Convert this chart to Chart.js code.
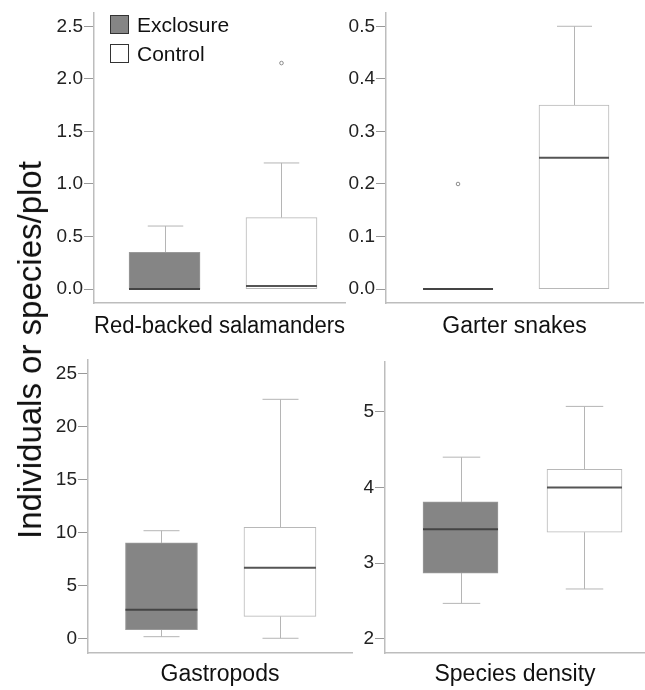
<!DOCTYPE html>
<html><head><meta charset="utf-8">
<script src="https://cdn.jsdelivr.net/npm/chart.js@4"></script>
<style>
html,body{margin:0;padding:0;background:#fff;}
body{width:645px;height:690px;position:relative;overflow:hidden;font-family:"Liberation Sans",Arial,sans-serif;}
.panel{position:absolute;}
#ytitle{position:absolute;left:30px;top:350px;transform:translate(-50%,-50%) rotate(-90deg);font-size:33px;white-space:nowrap;color:#111;}
#legend{position:absolute;left:110px;top:10px;font-size:21px;color:#111;z-index:2;}
.li{display:flex;align-items:center;height:29px;}
.sw{width:19px;height:19px;border:1px solid #333;margin-right:8px;box-sizing:border-box;}
</style></head>
<body>
<div class="panel" style="left:40px;top:0;width:310px;height:340px"><canvas id="c1"></canvas></div>
<div class="panel" style="left:330px;top:0;width:315px;height:340px"><canvas id="c2"></canvas></div>
<div class="panel" style="left:40px;top:345px;width:315px;height:345px"><canvas id="c3"></canvas></div>
<div class="panel" style="left:330px;top:345px;width:315px;height:345px"><canvas id="c4"></canvas></div>
<div id="ytitle">Individuals or species/plot</div>
<div id="legend">
  <div class="li"><span class="sw" style="background:#858585"></span><span>Exclosure</span></div>
  <div class="li"><span class="sw" style="background:#fff"></span><span>Control</span></div>
</div>
<script>
// ---- data: each box = [min, q1, median, q3, max]; order = groups ----
const groups = ['Exclosure', 'Control'];
const panelTitles = ['Red-backed salamanders', 'Garter snakes', 'Gastropods', 'Species density'];

const salamanderExclosure = [0, 0, 0, 0.35, 0.6];
const salamanderControl   = [0, 0, 0.03, 0.68, 1.2];
const salamanderOutliers  = [[], [2.15]];
const salamanderTicks     = [0, 0.5, 1.0, 1.5, 2.0, 2.5];

const snakeExclosure = [0, 0, 0, 0, 0];
const snakeControl   = [0, 0, 0.25, 0.35, 0.5];
const snakeOutliers  = [[0.2], []];
const snakeTicks     = [0, 0.1, 0.2, 0.3, 0.4, 0.5];

const gastropodExclosure = [0.15, 0.8, 2.7, 9.0, 10.15];
const gastropodControl   = [0, 2.07, 6.66, 10.47, 22.55];
const gastropodOutliers  = [[], []];
const gastropodTicks     = [0, 5, 10, 15, 20, 25];

const densityExclosure = [2.47, 2.87, 3.45, 3.81, 4.4];
const densityControl   = [2.66, 3.41, 4.0, 4.24, 5.07];
const densityOutliers  = [[], []];
const densityTicks     = [2, 3, 4, 5];

// ---- layout / style ----
const FONT = '"Liberation Sans", Arial, sans-serif';
const fillColors = ['#858585', '#ffffff'];
const borderColors = ['#9a9a9a', '#b8b8b8'];
const medianColors = ['#444444', '#555555'];
const whiskerColor = '#b5b5b5';
const axisColor = '#bdbdbd';

const panels = [
  {id:'c1', title:panelTitles[0], boxes:[salamanderExclosure, salamanderControl], outliers:salamanderOutliers, ticks:salamanderTicks, dec:1,
   pad:{left:0,right:5,top:10,bottom:0}, yW:54, xH:37, xMin:0.397, xMax:2.543, yMin:-0.132, yMax:2.632, bw:71},
  {id:'c2', title:panelTitles[1], boxes:[snakeExclosure, snakeControl], outliers:snakeOutliers, ticks:snakeTicks, dec:1,
   pad:{left:0,right:2,top:10,bottom:0}, yW:56, xH:37, xMin:0.379, xMax:2.595, yMin:-0.0264, yMax:0.5264, bw:70},
  {id:'c3', title:panelTitles[2], boxes:[gastropodExclosure, gastropodControl], outliers:gastropodOutliers, ticks:gastropodTicks, dec:0,
   pad:{left:0,right:3,top:15,bottom:2}, yW:48, xH:35, xMin:0.380, xMax:2.608, yMin:-1.39, yMax:26.26, bw:72},
  {id:'c4', title:panelTitles[3], boxes:[densityExclosure, densityControl], outliers:densityOutliers, ticks:densityTicks, dec:0,
   pad:{left:0,right:0,top:17,bottom:2}, yW:55, xH:35, xMin:0.391, xMax:2.488, yMin:1.815, yMax:5.656, bw:75}
];

function makeBoxPlugin(p) {
  return {
    id: 'boxExtras',
    beforeDatasetsDraw(chart) {
      const {ctx, scales:{x, y}} = chart;
      ctx.save();
      ctx.strokeStyle = whiskerColor;
      ctx.lineWidth = 1;
      p.boxes.forEach((b, i) => {
        const cx = Math.round(x.getPixelForValue(i + 1)) + 0.5;
        const half = p.bw / 4;
        const pMin = y.getPixelForValue(b[0]), pQ1 = y.getPixelForValue(b[1]);
        const pQ3 = y.getPixelForValue(b[3]), pMax = y.getPixelForValue(b[4]);
        ctx.beginPath();
        if (b[4] > b[3]) {
          ctx.moveTo(cx, pQ3); ctx.lineTo(cx, pMax);
          ctx.moveTo(cx - half, pMax); ctx.lineTo(cx + half, pMax);
        }
        if (b[0] < b[1]) {
          ctx.moveTo(cx, pQ1); ctx.lineTo(cx, pMin);
          ctx.moveTo(cx - half, pMin); ctx.lineTo(cx + half, pMin);
        }
        ctx.stroke();
      });
      ctx.restore();
    },
    afterDatasetsDraw(chart) {
      const {ctx, scales:{x, y}} = chart;
      ctx.save();
      p.boxes.forEach((b, i) => {
        const cx = x.getPixelForValue(i + 1);
        const pm = y.getPixelForValue(b[2]);
        ctx.strokeStyle = medianColors[i];
        ctx.lineWidth = 2;
        ctx.beginPath();
        ctx.moveTo(cx - p.bw / 2, pm); ctx.lineTo(cx + p.bw / 2, pm);
        ctx.stroke();
        (p.outliers[i] || []).forEach(v => {
          ctx.beginPath();
          ctx.arc(cx, y.getPixelForValue(v), 1.8, 0, Math.PI * 2);
          ctx.fillStyle = '#fff';
          ctx.fill();
          ctx.strokeStyle = '#8a8a8a';
          ctx.lineWidth = 1;
          ctx.stroke();
        });
      });
      ctx.restore();
    }
  };
}

panels.forEach(p => {
  new Chart(document.getElementById(p.id), {
    type: 'bar',
    data: {
      datasets: [{
        label: 'box',
        data: p.boxes.map((b, i) => ({x: i + 1, y: [b[1], b[3]], g: groups[i]})),
        backgroundColor: fillColors,
        borderColor: borderColors,
        borderWidth: 1,
        borderSkipped: false,
        barThickness: p.bw
      }]
    },
    options: {
      responsive: true,
      maintainAspectRatio: false,
      animation: false,
      devicePixelRatio: 1,
      layout: {padding: p.pad},
      plugins: {legend: {display: false}, tooltip: {enabled: false}},
      scales: {
        x: {
          type: 'linear',
          offset: false,
          min: p.xMin, max: p.xMax,
          grid: {display: false},
          ticks: {display: false},
          border: {color: axisColor, width: 1.5},
          title: {display: true, text: p.title, color: '#111', padding: 0,
                  font: {family: FONT, size: 23}},
          afterFit: s => { s.height = p.xH; }
        },
        y: {
          min: p.yMin, max: p.yMax,
          afterBuildTicks: s => { s.ticks = p.ticks.map(v => ({value: v})); },
          ticks: {color: '#222', padding: 1, font: {family: FONT, size: 19},
                  callback: v => Number(v).toFixed(p.dec)},
          grid: {drawOnChartArea: false, drawTicks: true, tickLength: 10, tickColor: '#999'},
          border: {color: axisColor, width: 1.5},
          afterFit: s => { s.width = p.yW; }
        }
      }
    },
    plugins: [makeBoxPlugin(p)]
  });
});
</script>
</body></html>
